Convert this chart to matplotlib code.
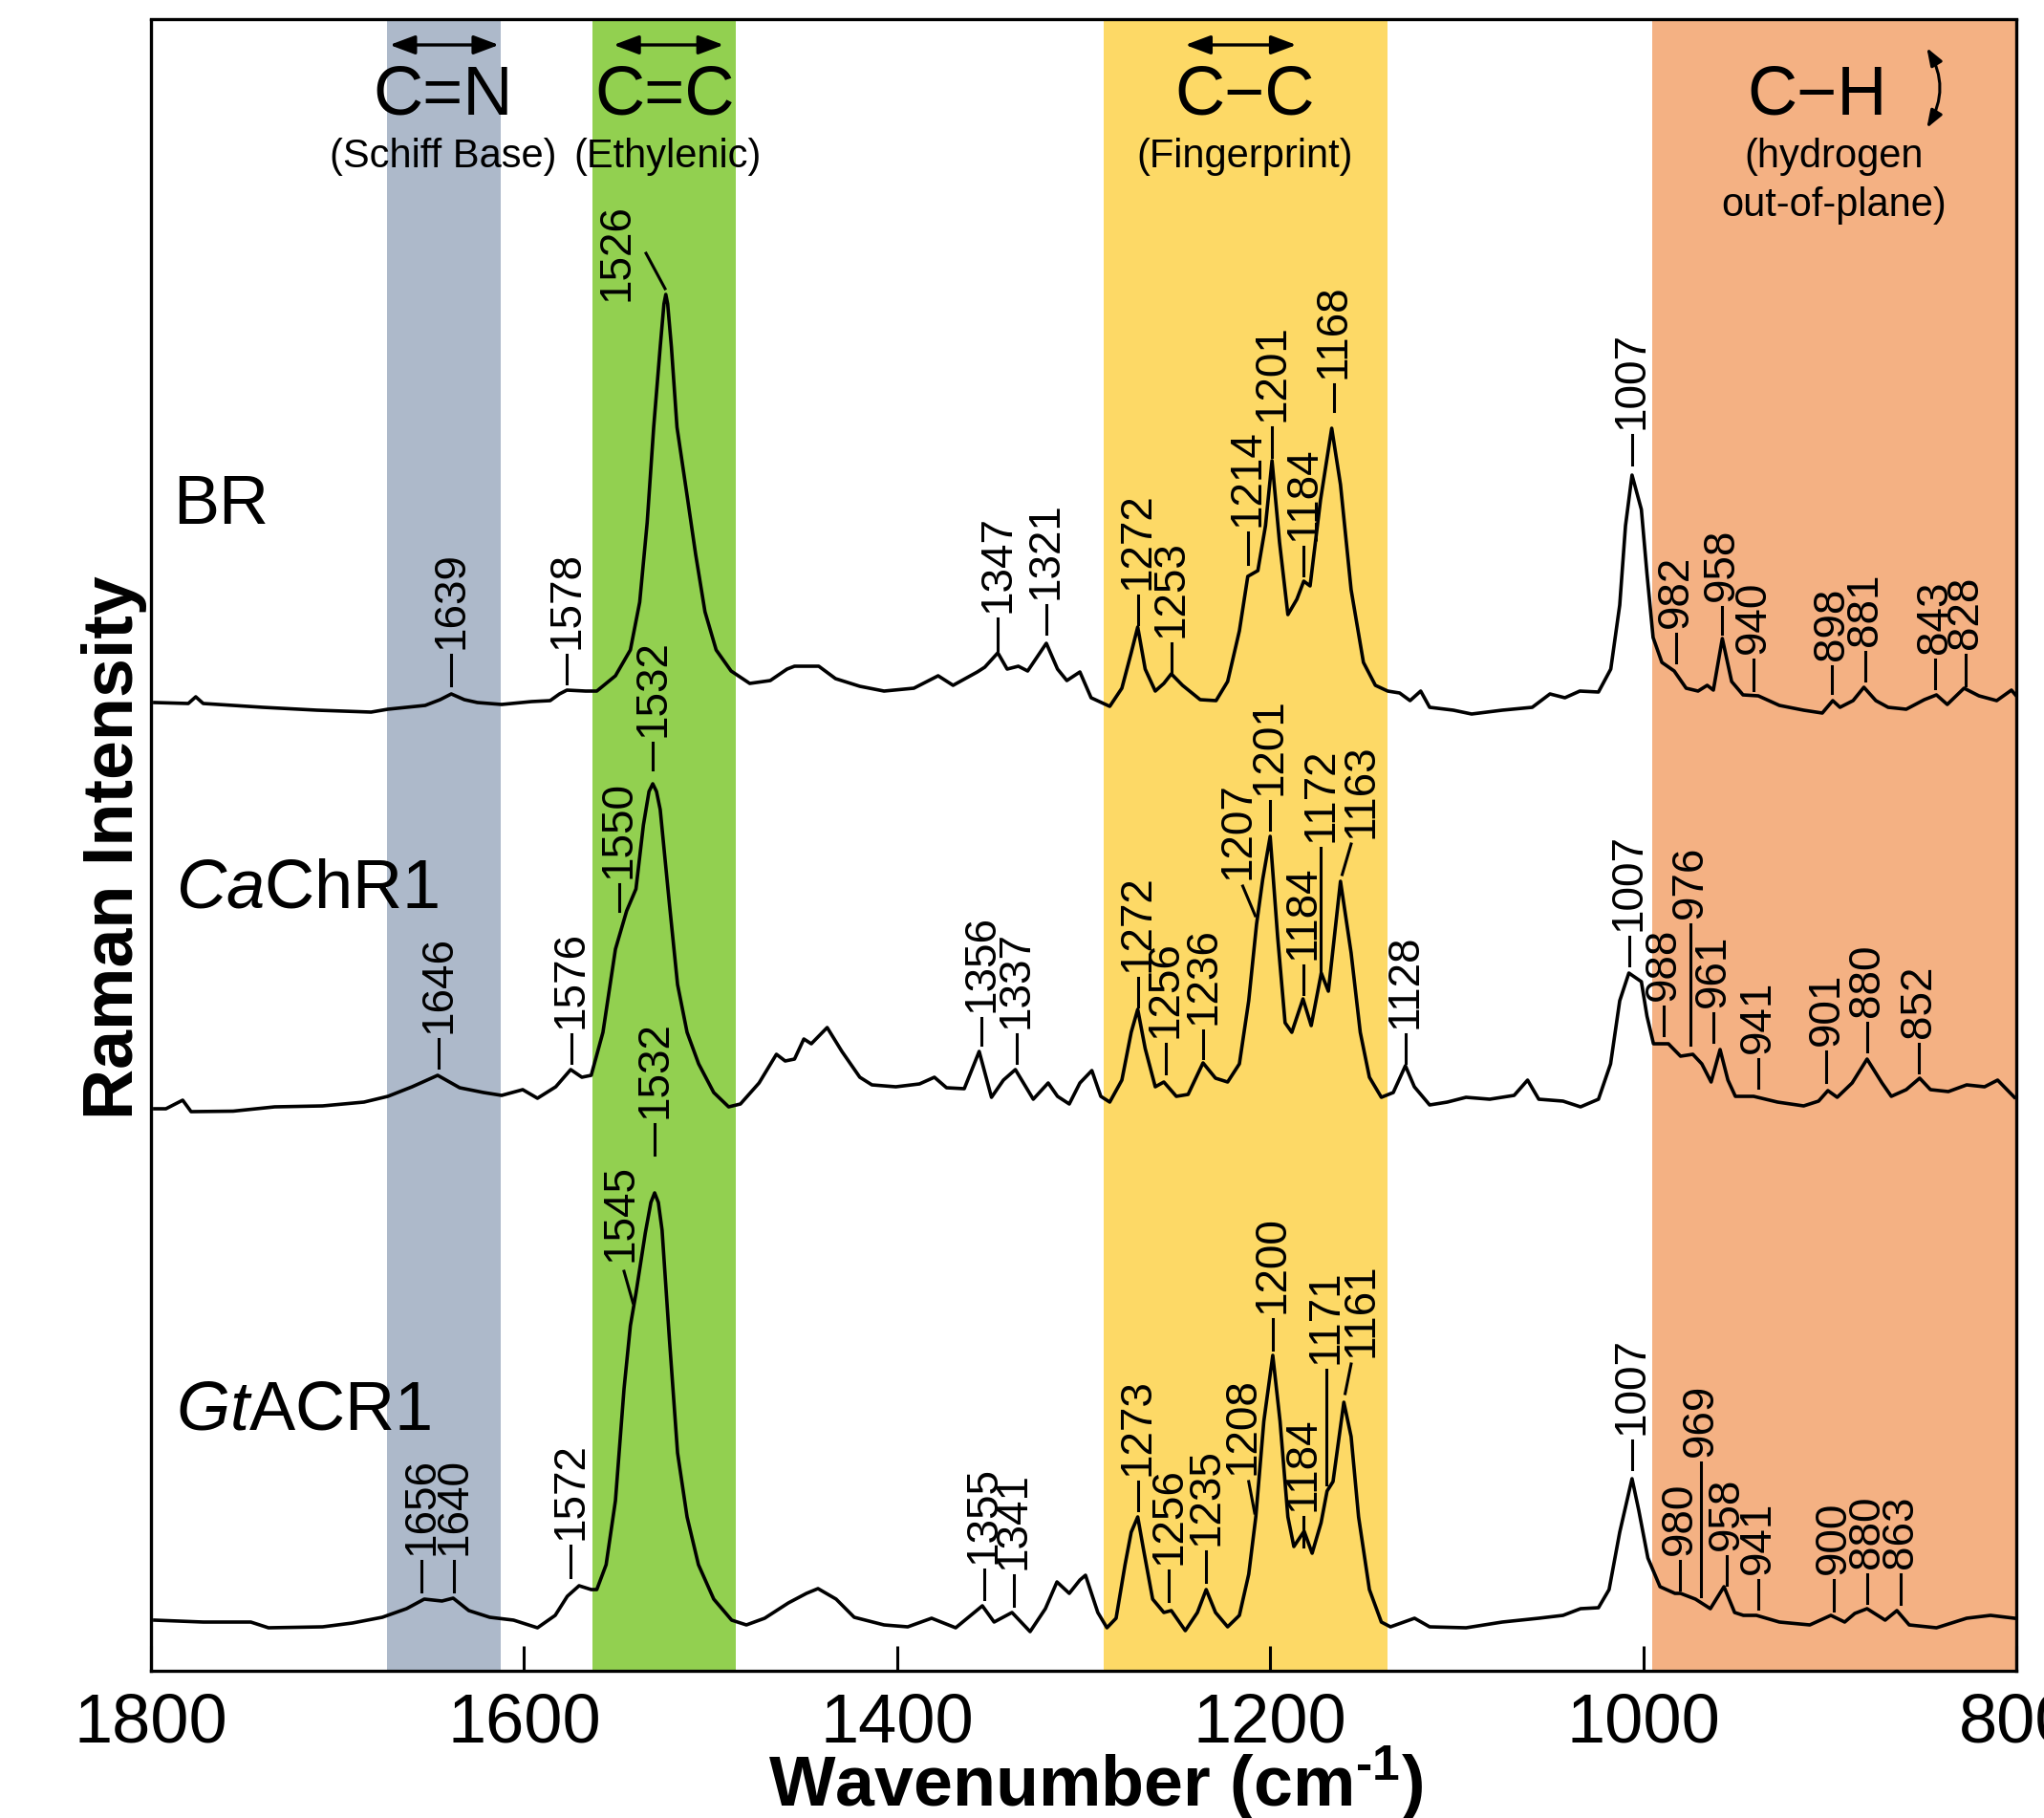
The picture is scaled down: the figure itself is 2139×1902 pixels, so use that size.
import numpy as np
import matplotlib
matplotlib.use("Agg")
import matplotlib.pyplot as plt
from matplotlib.patches import FancyArrowPatch

plt.rcParams['font.family'] = ['Liberation Sans', 'DejaVu Sans']
plt.rcParams['mathtext.fontset'] = 'custom'
plt.rcParams['mathtext.rm'] = 'Liberation Sans:bold'   # only used for the axis-label superscript
plt.rcParams['mathtext.it'] = 'Liberation Sans:italic'
plt.rcParams['mathtext.bf'] = 'Liberation Sans:bold'

# ---- spectra: (wavenumber, intensity above own baseline)
br_points = [
    (1798, 13), (1780, 12), (1776, 19), (1772, 12), (1740, 8), (1711, 5), (1682, 3),
    (1673, 6), (1653, 10), (1645, 16), (1639, 22), (1632, 16), (1625, 13), (1612, 11),
    (1596, 14), (1586, 15), (1581, 22), (1577, 26), (1567, 25), (1561, 25), (1551, 41),
    (1543, 68), (1538, 118), (1534, 201), (1530.5, 301), (1527, 385), (1525, 430),
    (1524, 440), (1523, 430), (1521, 385), (1518, 301), (1513, 235), (1508, 168),
    (1503, 108), (1497, 68), (1489, 46), (1479, 33), (1468, 36), (1459, 48), (1455, 51),
    (1442, 51), (1433, 38), (1420, 30), (1407, 25), (1391, 28), (1378, 41), (1370, 31),
    (1357, 45), (1353, 50), (1346, 65), (1341, 48), (1335, 51), (1330, 46), (1320, 75),
    (1314, 48), (1309, 36), (1302, 45), (1296, 18), (1286, 9), (1279.5, 28), (1274.5, 65),
    (1271, 92), (1267, 48), (1261.6, 25), (1257, 33), (1253, 43), (1247, 31), (1237.5, 16),
    (1229, 15), (1222.8, 35), (1216.5, 88), (1212, 145), (1206.6, 151), (1202.5, 198),
    (1199, 266), (1195, 181), (1190.5, 105), (1185.7, 121), (1182, 140), (1178.6, 135),
    (1173, 225), (1167, 300), (1162.3, 241), (1156.6, 131), (1150, 55), (1143.6, 31),
    (1137, 25), (1130.6, 23), (1125, 15), (1119.3, 25), (1114.5, 8), (1101.8, 5), (1092, 1),
    (1075.6, 5), (1059.5, 8), (1050, 22), (1042, 18), (1034, 25), (1024, 24), (1017.4, 48),
    (1012.6, 115), (1009.5, 198), (1006, 251), (1001, 215), (998, 148), (994.7, 81),
    (990, 55), (983.4, 46), (977, 28), (970.6, 25), (965.7, 31), (962.4, 26), (957.6, 80),
    (952.6, 35), (946.5, 21), (938.3, 20), (927, 10), (914, 5), (904, 2), (898.4, 15),
    (894.5, 8), (887.5, 15), (881.7, 29), (875.3, 15), (868.7, 8), (859, 6), (849.3, 16),
    (842.8, 21), (837, 11), (828, 28), (820, 20), (810.5, 15), (802.6, 26), (800, 20),
]

cachr1_points = [
    (1798, 3), (1792, 3), (1783, 12), (1778.5, 0), (1756, 0.5), (1733.7, 5), (1708, 6),
    (1685.8, 10), (1673, 16), (1660, 26), (1646.3, 38), (1634.5, 25), (1621.7, 20),
    (1612, 17), (1600.7, 23), (1592.8, 14), (1583, 26), (1575, 44), (1569, 36), (1564, 38),
    (1557.7, 83), (1551, 170), (1545, 210), (1540, 233), (1536, 300), (1533, 335),
    (1531, 343), (1529, 335), (1527, 316), (1522, 216), (1517.7, 133), (1512.6, 83),
    (1506.4, 50), (1498.3, 20), (1490.3, 5), (1484, 8), (1474, 30), (1464.7, 60), (1460, 53),
    (1455, 55), (1450, 76), (1446, 71), (1437.5, 88), (1429.6, 63), (1420, 36),
    (1413.5, 28), (1400.7, 26), (1388, 29), (1380, 36), (1373.5, 25), (1364, 24),
    (1356, 63), (1349.4, 15), (1343, 33), (1336.6, 44), (1327, 13), (1319, 30), (1314, 16),
    (1307.7, 8), (1302, 30), (1295.6, 43), (1290.8, 16), (1286, 10), (1279.5, 33),
    (1274.5, 83), (1271, 107), (1267, 66), (1261.6, 26), (1257, 31), (1250.3, 16),
    (1244, 18), (1236, 51), (1229.3, 35), (1222.8, 31), (1216.5, 50), (1211.5, 116),
    (1207.3, 196), (1204, 243), (1200, 288), (1196, 183), (1192, 93), (1188.4, 83),
    (1182.4, 118), (1178, 90), (1172.6, 145), (1168.8, 126), (1162.3, 241), (1156.6, 166),
    (1151.7, 83), (1146.8, 36), (1140.4, 15), (1134, 20), (1127.5, 48), (1122.7, 26),
    (1114.5, 7), (1105, 10), (1095, 15), (1082.3, 13), (1069.2, 17), (1062, 33), (1056, 13),
    (1043, 11), (1033.6, 5), (1024, 13), (1017.5, 50), (1012.6, 116), (1007.7, 145),
    (1001, 136), (998, 100), (994.5, 71), (986.5, 71), (980, 58), (973.4, 60), (968.6, 50),
    (963.6, 31), (958.8, 65), (954.6, 33), (950.6, 16), (940.8, 16), (928, 10), (914, 6),
    (906, 11), (901, 22), (896, 15), (888, 30), (880, 55), (872, 30), (867, 16), (859, 23),
    (851.8, 35), (846, 23), (836.4, 21), (826.6, 28), (817, 26), (810, 33), (801, 15),
]

gtacr1_points = [
    (1798, 13), (1772, 11), (1746.5, 11), (1737, 5), (1708, 6), (1692, 10), (1676, 16),
    (1663, 25), (1653.5, 35), (1644, 33), (1638, 36), (1629.6, 23), (1618.4, 16),
    (1605.6, 13), (1592.8, 5), (1583.3, 18), (1576.8, 38), (1570.5, 49), (1564, 45),
    (1561, 45), (1556, 71), (1551, 138), (1546.4, 255), (1543, 321), (1540, 355),
    (1535, 418), (1532, 450), (1530, 460), (1528, 450), (1526, 421), (1522, 305),
    (1517.7, 188), (1512.6, 121), (1506.5, 71), (1498.3, 35), (1488.7, 13), (1480.8, 8),
    (1471, 15), (1458.3, 31), (1448.6, 41), (1442.4, 46), (1432.7, 35), (1423, 16),
    (1407, 8), (1394.3, 6), (1381.5, 15), (1368.6, 5), (1354.3, 28), (1348, 11),
    (1338.4, 21), (1328.7, 1), (1320.5, 25), (1314.3, 53), (1307.7, 41), (1302, 55),
    (1299, 60), (1292.4, 21), (1287.5, 5), (1282.6, 15), (1277.8, 71), (1274.5, 105),
    (1271, 121), (1268, 88), (1263, 35), (1257, 21), (1253, 23), (1245.5, 2), (1239, 21),
    (1234.3, 45), (1229.3, 21), (1222.8, 6), (1216.5, 18), (1211.5, 61), (1207.7, 121),
    (1203.4, 221), (1198.6, 290), (1194.7, 221), (1190.5, 121), (1187.3, 90),
    (1181.8, 106), (1177.5, 83), (1172.7, 115), (1169.5, 148), (1166.3, 158),
    (1160.5, 241), (1156.6, 205), (1152.6, 121), (1146.8, 45), (1140.4, 11), (1135.5, 6),
    (1122.6, 15), (1114.5, 6), (1095, 5), (1075.6, 11), (1056, 15), (1043, 18),
    (1033.6, 25), (1024, 26), (1018.3, 45), (1012.6, 105), (1006, 161), (1002.4, 128),
    (997.5, 78), (991, 48), (983, 41), (980, 41), (972, 35), (964, 25), (956.7, 48),
    (951, 21), (946.3, 18), (939.3, 18), (927, 11), (910.7, 8), (899.4, 18), (892, 11),
    (886.6, 20), (880, 25), (870.3, 13), (864, 23), (857.4, 8), (842.8, 5), (826.6, 15),
    (813.8, 18), (801, 15),
]

# vertical offsets of the stacked traces (axis units = pixels)
offsets = {"BR": 1000, "CaChR1": 585, "GtACR1": 40}

# ---- peak labels: (text, x, leader bottom, leader length)
br_labels = [
    ("1639", 1639, 1031, 32), ("1578", 1577, 1033, 30), ("1347", 1346, 1068, 33),
    ("1321", 1320, 1085, 30), ("1272", 1271, 1095, 30), ("1253", 1253, 1045, 30),
    ("1214", 1212, 1158, 33), ("1201", 1199, 1270, 31), ("1184", 1182, 1146, 30),
    ("1168", 1166, 1318, 28), ("1007", 1006, 1262, 31), ("982", 982.5, 1055, 30),
    ("958", 957.6, 1085, 28), ("940", 940.8, 1026, 32), ("898", 899, 1023, 28),
    ("881", 881, 1036, 30), ("843", 843.5, 1028, 30), ("828", 827, 1031, 32),
]
ca_labels = [
    ("1646", 1645.6, 631, 30), ("1576", 1574.6, 636, 30), ("1550", 1549, 795, 28),
    ("1532", 1531, 943, 28), ("1356", 1354.8, 655, 28), ("1337", 1336, 636, 30),
    ("1272", 1271, 695, 30), ("1256", 1256, 625, 31), ("1236", 1235.8, 641, 29),
    ("1201", 1200.2, 880, 30), ("1184", 1182.4, 708, 30), ("1172", 1172.7, 731, 130),
    ("1128", 1127.4, 636, 30), ("1007", 1007.7, 738, 30), ("988", 989, 665, 30),
    ("976", 974.8, 655, 126), ("961", 962.5, 658, 30), ("941", 938.5, 610, 30),
    ("901", 901.7, 616, 32), ("880", 880, 648, 30), ("852", 852.5, 626, 30),
]
gt_labels = [
    ("1656", 1655, 83, 32), ("1640", 1637.6, 83, 32), ("1572", 1575, 98, 33),
    ("1532", 1530, 540, 32), ("1355", 1353.5, 75, 31), ("1341", 1337.5, 68, 32),
    ("1273", 1271, 168, 30), ("1256", 1254.2, 73, 32), ("1235", 1234.3, 93, 32),
    ("1200", 1198.6, 336, 32), ("1184", 1182.4, 130, 31), ("1171", 1170, 195, 120),
    ("1007", 1006, 211, 30), ("980", 980.3, 85, 30), ("969", 969, 78, 140),
    ("958", 955.3, 90, 30), ("941", 938.3, 65, 30), ("900", 897.8, 63, 32),
    ("880", 880, 71, 30), ("863", 862.2, 70, 31),
]
# slanted leaders: (text, x0, y0, x1, y1, text x, text bottom)
slanted_labels = [
    ("1526", 1524.4, 1446, 1534.6, 1483, 1550.5, 1433),
    ("1207", 1208, 790, 1214.7, 821, 1217.5, 828),
    ("1163", 1161.4, 833, 1156.6, 865, 1151, 871),
    ("1545", 1541.6, 385, 1546.4, 418, 1548, 428),
    ("1208", 1208.3, 165, 1211.5, 198, 1214.7, 205),
    ("1161", 1159.8, 290, 1156.6, 321, 1151, 328),
]

# ---- shaded vibrational regions
bands = [(1673.6, 1612.5, '#ADB9CA'), (1563.5, 1486.5, '#92D050'),
         (1289, 1137, '#FDD966'), (995, 800, '#F4B183')]


def main():
    fig = plt.figure(figsize=(21.39, 19.02), dpi=100)
    ax = fig.add_axes([158 / 2139, 1 - 1748 / 1902, 1952 / 2139, 1727.5 / 1902])
    ax.set_xlim(1800, 800)
    ax.set_ylim(0, 1727.5)

    for x0, x1, c in bands:
        ax.axvspan(x0, x1, color=c, lw=0, zorder=0)

    for name, pts in (("BR", br_points), ("CaChR1", cachr1_points), ("GtACR1", gtacr1_points)):
        wn = np.array([p[0] for p in pts])
        val = np.array([p[1] for p in pts]) + offsets[name]
        ax.plot(wn, val, color='black', lw=2.6, zorder=3, solid_joinstyle='round')

    lab_fs = 33
    for s, x, y0, length in br_labels + ca_labels + gt_labels:
        ax.plot([x, x], [y0, y0 + length], color='black', lw=2.2, zorder=4)
        ax.text(x, y0 + length + 6, s, rotation=90, ha='center', va='bottom',
                fontsize=lab_fs, zorder=5)
    for s, x0, y0, x1, y1, tx, ty in slanted_labels:
        ax.plot([x0, x1], [y0, y1], color='black', lw=2.2, zorder=4)
        ax.text(tx, ty, s, rotation=90, ha='center', va='bottom', fontsize=lab_fs, zorder=5)

    # band headings
    big = 52
    small = 30
    ax.text(1643.3, 1628, "C=N", ha='center', va='baseline', fontsize=big)
    ax.text(1524.4, 1628, "C=C", ha='center', va='baseline', fontsize=big)
    ax.text(1213.5, 1628, "C\u2212C", ha='center', va='baseline', fontsize=big)
    ax.text(906.8, 1628, "C\u2212H", ha='center', va='baseline', fontsize=big)
    ax.text(1643.3, 1573, "(Schiff Base)", ha='center', va='baseline', fontsize=small)
    ax.text(1523, 1573, "(Ethylenic)", ha='center', va='baseline', fontsize=small)
    ax.text(1213.5, 1573, "(Fingerprint)", ha='center', va='baseline', fontsize=small)
    ax.text(897.7, 1573, "(hydrogen", ha='center', va='baseline', fontsize=small)
    ax.text(897.7, 1522, "out-of-plane)", ha='center', va='baseline', fontsize=small)

    arrow_kw = dict(arrowstyle='<|-|>,head_length=0.8,head_width=0.3', mutation_scale=20,
                    lw=2.4, color='black', shrinkA=0, shrinkB=0, zorder=5)
    for xa, xb in ((1672, 1613.5), (1552, 1493), (1245.5, 1186)):
        ax.add_patch(FancyArrowPatch((xa, 1701), (xb, 1701), **arrow_kw))
    ax.add_patch(FancyArrowPatch((848, 1698), (848, 1614),
                                 connectionstyle='arc3,rad=-0.3',
                                 arrowstyle='<|-|>,head_length=0.55,head_width=0.2',
                                 mutation_scale=20, lw=2.2, color='black',
                                 shrinkA=0, shrinkB=0, zorder=5))

    # trace names
    ax.text(1788.4, 1200, "BR", ha='left', va='baseline', fontsize=52)
    ax.text(1786.7, 798, r"$\mathit{Ca}$ChR1", ha='left', va='baseline', fontsize=52)
    ax.text(1786.7, 253, r"$\mathit{Gt}$ACR1", ha='left', va='baseline', fontsize=52)

    ax.set_xticks([1800, 1600, 1400, 1200, 1000, 800])
    ax.set_yticks([])
    ax.tick_params(axis='x', direction='in', length=19, width=2.2, labelsize=52, pad=16)
    for sp in ax.spines.values():
        sp.set_linewidth(2.4)

    fig.text(1147 / 2139, 1 - 1866 / 1902, r"Wavenumber (cm$^{\text{-1}}$)",
             ha='center', va='center', fontsize=53, fontweight='bold')
    fig.text(120 / 2139, 1 - 887 / 1902, "Raman Intensity", rotation=90,
             ha='center', va='center', fontsize=53, fontweight='bold')

    fig.savefig("out.png", dpi=100, facecolor='white')


if __name__ == "__main__":
    main()
